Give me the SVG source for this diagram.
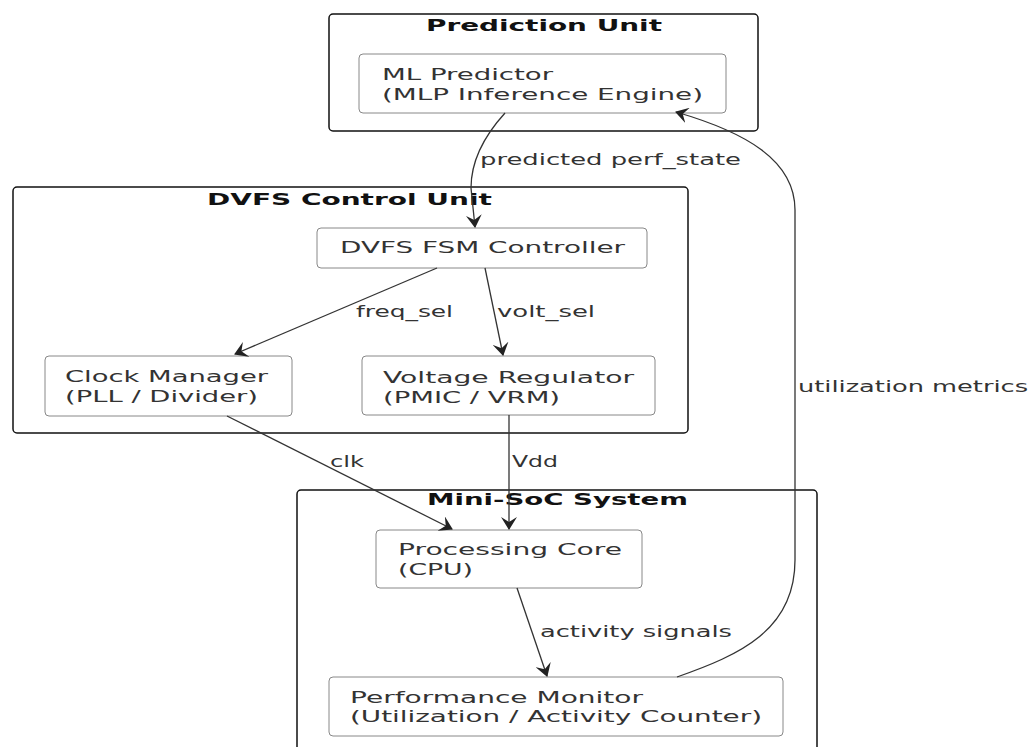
<svg xmlns="http://www.w3.org/2000/svg" width="1031" height="747" viewBox="0 0 1031 747">
<defs>
<style>
.cluster{fill:#fff;stroke:#111;stroke-width:1.5}
.node{fill:#fff;stroke:#888;stroke-width:1}
.t{font-family:"DejaVu Sans","Liberation Sans",sans-serif;font-size:16px;fill:#333}
.ct{font-family:"DejaVu Sans","Liberation Sans",sans-serif;font-size:16px;font-weight:bold;fill:#111}
.el{font-family:"DejaVu Sans","Liberation Sans",sans-serif;font-size:16px;fill:#333}
.edge{fill:none;stroke:#333;stroke-width:1.3}
</style>
<marker id="arr" viewBox="0 0 13 16" refX="12" refY="8" markerWidth="13" markerHeight="16" markerUnits="userSpaceOnUse" orient="auto">
<path d="M0,0 L13,8 L0,16 L5,8 z" fill="#222"/>
</marker>
</defs>
<rect width="1031" height="747" fill="#fff"/>

<g id="cluster-prediction">
<rect class="cluster" x="329" y="14" width="429" height="117" rx="4"/>
<text class="ct" x="426" y="31" textLength="236" lengthAdjust="spacingAndGlyphs">Prediction Unit</text>
</g>
<g id="cluster-dvfs">
<rect class="cluster" x="13" y="187" width="675" height="246" rx="4"/>
<text class="ct" x="207" y="205" textLength="285" lengthAdjust="spacingAndGlyphs">DVFS Control Unit</text>
</g>
<g id="cluster-soc">
<rect class="cluster" x="297" y="490" width="520" height="300" rx="4"/>
<text class="ct" x="427" y="505" textLength="261" lengthAdjust="spacingAndGlyphs">Mini-SoC System</text>
</g>

<g id="node-ml">
<rect class="node" x="359" y="54" width="367" height="59" rx="4"/>
<text class="t" x="382" y="80" textLength="171" lengthAdjust="spacingAndGlyphs">ML Predictor</text>
<text class="t" x="382" y="100" textLength="321" lengthAdjust="spacingAndGlyphs">(MLP Inference Engine)</text>
</g>
<g id="node-fsm">
<rect class="node" x="317" y="228" width="330" height="40" rx="4"/>
<text class="t" x="340" y="253" textLength="285" lengthAdjust="spacingAndGlyphs">DVFS FSM Controller</text>
</g>
<g id="node-clock">
<rect class="node" x="45" y="356" width="247" height="60" rx="4"/>
<text class="t" x="65" y="382" textLength="203" lengthAdjust="spacingAndGlyphs">Clock Manager</text>
<text class="t" x="65" y="402" textLength="193" lengthAdjust="spacingAndGlyphs">(PLL / Divider)</text>
</g>
<g id="node-volt">
<rect class="node" x="362" y="356" width="293" height="59" rx="4"/>
<text class="t" x="383" y="383" textLength="251" lengthAdjust="spacingAndGlyphs">Voltage Regulator</text>
<text class="t" x="383" y="403" textLength="177" lengthAdjust="spacingAndGlyphs">(PMIC / VRM)</text>
</g>
<g id="node-core">
<rect class="node" x="376" y="530" width="266" height="58" rx="4"/>
<text class="t" x="398" y="555" textLength="224" lengthAdjust="spacingAndGlyphs">Processing Core</text>
<text class="t" x="398" y="575" textLength="75" lengthAdjust="spacingAndGlyphs">(CPU)</text>
</g>
<g id="node-perf">
<rect class="node" x="329" y="677" width="454" height="59" rx="4"/>
<text class="t" x="350" y="703" textLength="293" lengthAdjust="spacingAndGlyphs">Performance Monitor</text>
<text class="t" x="350" y="722" textLength="412" lengthAdjust="spacingAndGlyphs">(Utilization / Activity Counter)</text>
</g>

<g id="connectors">
<path class="edge" marker-end="url(#arr)" d="M505,113 C485,135 471,160 471,188 L475,227"/>
<text class="el" x="480" y="165" textLength="261" lengthAdjust="spacingAndGlyphs">predicted perf_state</text>
<path class="edge" marker-end="url(#arr)" d="M437,268 L235,354"/>
<text class="el" x="356" y="317" textLength="97" lengthAdjust="spacingAndGlyphs">freq_sel</text>
<path class="edge" marker-end="url(#arr)" d="M485,268 L503,355"/>
<text class="el" x="497" y="317" textLength="98" lengthAdjust="spacingAndGlyphs">volt_sel</text>
<path class="edge" marker-end="url(#arr)" d="M227,416 L452,529"/>
<text class="el" x="330" y="467" textLength="34" lengthAdjust="spacingAndGlyphs">clk</text>
<path class="edge" marker-end="url(#arr)" d="M509,415 L509,529"/>
<text class="el" x="512" y="467" textLength="46" lengthAdjust="spacingAndGlyphs">Vdd</text>
<path class="edge" marker-end="url(#arr)" d="M517,588 L547,676"/>
<text class="el" x="540" y="637" textLength="192" lengthAdjust="spacingAndGlyphs">activity signals</text>
<path class="edge" marker-end="url(#arr)" d="M677,677 C740,655 795,630 795,560 L795,210 C795,160 745,132 676,112"/>
<text class="el" x="798" y="392" textLength="230" lengthAdjust="spacingAndGlyphs">utilization metrics</text>
</g>
</svg>
